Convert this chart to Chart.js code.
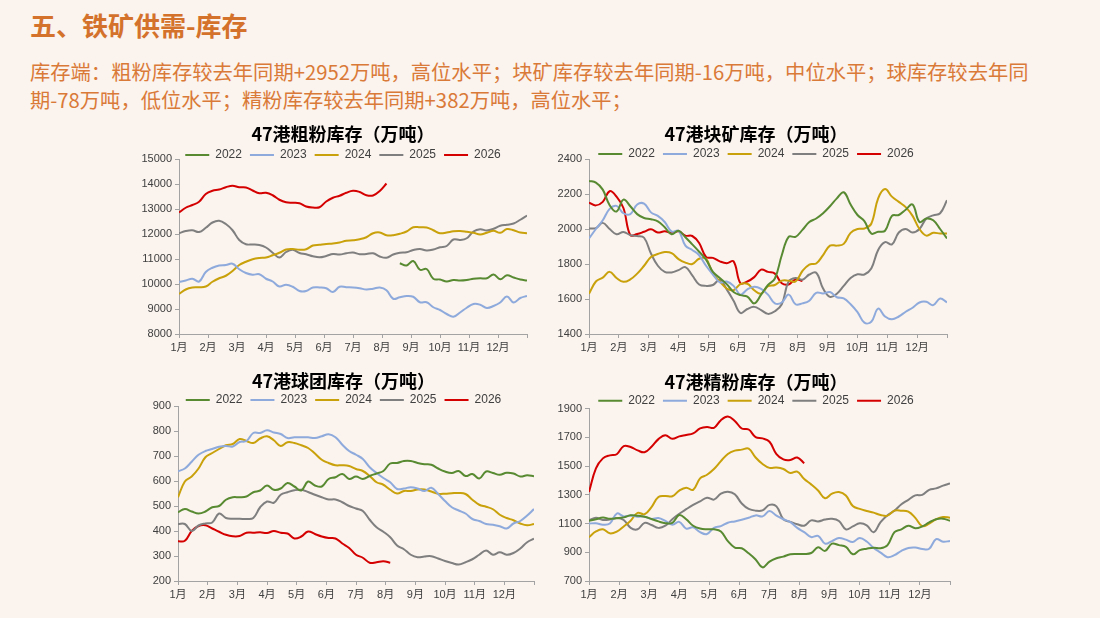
<!DOCTYPE html>
<html lang="zh-CN">
<head>
<meta charset="utf-8">
<title>铁矿供需-库存</title>
<script src="https://cdn.jsdelivr.net/npm/chart.js@4.4.1/dist/chart.umd.min.js"></script>
<style>
  html, body { margin: 0; padding: 0; }
  body {
    width: 1100px; height: 618px; position: relative; overflow: hidden;
    background: #faf3ee;
    font-family: "Noto Sans CJK SC", sans-serif;
  }
  h1 {
    position: absolute; left: 30px; top: 7px; margin: 0;
    font-size: 26px; line-height: 36px; font-weight: 700; color: #d4722c;
  }
  .summary {
    position: absolute; left: 30px; top: 57px; margin: 0;
    font-size: 20.3px; line-height: 28px; color: #da7a38; white-space: nowrap;
  }
  .box { position: absolute; }
</style>
</head>
<body>
<h1>五、铁矿供需-库存</h1>
<p class="summary">库存端：粗粉库存较去年同期+2952万吨，高位水平；块矿库存较去年同期-16万吨，中位水平；球库存较去年同<br>期-78万吨，低位水平；精粉库存较去年同期+382万吨，高位水平；</p>

<div class="box" style="left:119px; top:118px; width:416px; height:240px;"><canvas id="coarseChart"></canvas></div>
<div class="box" style="left:525px; top:118px; width:430px; height:240px;"><canvas id="lumpChart"></canvas></div>
<div class="box" style="left:113px; top:365px; width:429px; height:240px;"><canvas id="pelletChart"></canvas></div>
<div class="box" style="left:522px; top:366px; width:436px; height:239px;"><canvas id="fineChart"></canvas></div>

<script>
"use strict";

// x 轴: 1月..12月, 周度数据 (每周一个点)
const monthLabels = ['1月', '2月', '3月', '4月', '5月', '6月', '7月', '8月', '9月', '10月', '11月', '12月'];
const years = ['2022', '2023', '2024', '2025', '2026'];

// 47港粗粉库存 (万吨)
const coarse2022Start = 33; // 2022 从第33周开始有数据
const coarse2022 = [10830, 10740, 10920, 10570, 10600, 10210, 10180, 10100, 10160, 10140, 10160, 10210, 10230, 10230, 10380, 10190, 10350, 10260, 10180, 10140];
const coarse2023 = [10080, 10140, 10210, 10100, 10480, 10650, 10740, 10760, 10810, 10590, 10440, 10370, 10390, 10210, 10100, 9900, 9970, 9890, 9720, 9720, 9860, 9860, 9830, 9680, 9890, 9870, 9860, 9830, 9780, 9810, 9860, 9750, 9410, 9470, 9520, 9490, 9270, 9270, 9070, 8960, 8800, 8690, 8860, 9050, 9200, 9170, 9040, 9120, 9260, 9500, 9260, 9440, 9520];
const coarse2024 = [9600, 9780, 9860, 9870, 9900, 10090, 10230, 10330, 10520, 10760, 10890, 10990, 11040, 11060, 11150, 11250, 11380, 11400, 11370, 11390, 11540, 11570, 11600, 11620, 11660, 11730, 11750, 11790, 11870, 12030, 12060, 11950, 11950, 12010, 12100, 12270, 12270, 12260, 12150, 12030, 12060, 12110, 12120, 12090, 12050, 11980, 12050, 12130, 12050, 12200, 12150, 12060, 12030];
const coarse2025 = [12030, 12120, 12150, 12080, 12250, 12460, 12530, 12400, 12150, 11760, 11590, 11580, 11560, 11460, 11250, 11060, 11280, 11370, 11240, 11190, 11110, 11070, 11120, 11200, 11180, 11230, 11260, 11190, 11200, 11230, 11100, 11050, 11180, 11250, 11270, 11360, 11400, 11340, 11380, 11470, 11520, 11780, 11760, 11830, 12100, 12190, 12140, 12210, 12330, 12370, 12420, 12570, 12740];
const coarse2026 = [12860, 13050, 13160, 13290, 13600, 13730, 13780, 13870, 13930, 13870, 13860, 13740, 13630, 13650, 13550, 13370, 13270, 13250, 13230, 13100, 13060, 13070, 13300, 13450, 13530, 13650, 13730, 13680, 13550, 13540, 13720, 14020];

// 47港块矿库存 (万吨)
const lump2022 = [2275, 2265, 2225, 2136, 2100, 2168, 2130, 2085, 2063, 2056, 2044, 2010, 1970, 1990, 1953, 1912, 1870, 1825, 1755, 1720, 1685, 1640, 1622, 1614, 1575, 1625, 1680, 1717, 1850, 1955, 1955, 1995, 2040, 2060, 2090, 2130, 2175, 2210, 2140, 2080, 2045, 1974, 1984, 1990, 2075, 2080, 2110, 2140, 2040, 2060, 2050, 2000, 1946];
const lump2023 = [1946, 2000, 2050, 2115, 2132, 2090, 2085, 2140, 2145, 2095, 2075, 2040, 1985, 1990, 1905, 1880, 1850, 1790, 1740, 1695, 1700, 1675, 1625, 1655, 1670, 1658, 1625, 1575, 1580, 1625, 1570, 1575, 1590, 1635, 1632, 1640, 1610, 1603, 1570, 1525, 1465, 1470, 1545, 1500, 1484, 1500, 1527, 1550, 1580, 1584, 1565, 1603, 1581];
const lump2024 = [1630, 1700, 1722, 1755, 1720, 1698, 1712, 1745, 1790, 1840, 1857, 1868, 1862, 1828, 1808, 1800, 1830, 1830, 1745, 1700, 1660, 1650, 1685, 1687, 1650, 1630, 1673, 1680, 1705, 1705, 1700, 1760, 1797, 1803, 1851, 1905, 1905, 1915, 1978, 2000, 2003, 2030, 2175, 2228, 2185, 2155, 2125, 2075, 2000, 1962, 1978, 1974, 1974];
const lump2025 = [2003, 2005, 2035, 2000, 1970, 1983, 1965, 1960, 1950, 1860, 1790, 1755, 1752, 1765, 1782, 1735, 1683, 1675, 1680, 1710, 1655, 1590, 1520, 1543, 1555, 1537, 1515, 1530, 1570, 1700, 1720, 1710, 1740, 1750, 1660, 1612, 1630, 1675, 1720, 1741, 1740, 1774, 1880, 1925, 1912, 1980, 2000, 1980, 2000, 2060, 2078, 2090, 2164];
const lump2026 = [2151, 2135, 2155, 2216, 2185, 2120, 1965, 1971, 1984, 1998, 1980, 1987, 1978, 1987, 1962, 1960, 1920, 1840, 1835, 1815, 1805, 1815, 1690, 1700, 1725, 1768, 1755, 1745, 1690, 1683, 1712, 1702];

// 47港球团库存 (万吨)
const pellet2022 = [475, 488, 478, 470, 478, 495, 500, 525, 535, 535, 538, 555, 562, 582, 565, 570, 592, 578, 562, 598, 582, 578, 608, 615, 628, 608, 618, 608, 620, 630, 640, 670, 672, 680, 680, 672, 667, 665, 650, 638, 632, 640, 620, 628, 610, 638, 632, 625, 633, 630, 618, 623, 619];
const pellet2023 = [639, 650, 677, 705, 720, 728, 737, 740, 738, 756, 760, 792, 792, 803, 794, 788, 772, 775, 775, 775, 772, 779, 787, 775, 745, 720, 705, 688, 655, 632, 612, 595, 568, 570, 575, 570, 560, 573, 548, 520, 495, 482, 470, 448, 440, 428, 425, 419, 410, 430, 440, 462, 488];
const pellet2024 = [535, 598, 618, 650, 695, 712, 728, 743, 748, 768, 760, 752, 770, 779, 763, 740, 755, 752, 743, 732, 710, 685, 672, 663, 663, 660, 648, 640, 620, 595, 585, 565, 550, 560, 560, 566, 566, 558, 549, 549, 551, 552, 548, 525, 505, 497, 487, 465, 452, 443, 430, 423, 428];
const pellet2025 = [428, 428, 400, 422, 430, 434, 470, 452, 449, 449, 448, 452, 495, 518, 513, 545, 555, 563, 565, 556, 545, 535, 526, 526, 515, 500, 490, 480, 445, 415, 397, 375, 342, 327, 305, 295, 298, 299, 290, 280, 272, 266, 275, 287, 305, 322, 305, 315, 305, 312, 330, 355, 369];
const pellet2026 = [359, 361, 400, 420, 423, 410, 397, 385, 379, 380, 393, 393, 395, 392, 400, 393, 390, 370, 378, 398, 388, 378, 372, 370, 350, 332, 305, 293, 273, 275, 279, 273];

// 47港精粉库存 (万吨)
const fine2022 = [1120, 1130, 1142, 1133, 1137, 1143, 1158, 1155, 1148, 1132, 1115, 1103, 1105, 1160, 1130, 1085, 1065, 1060, 1060, 1045, 978, 933, 928, 893, 850, 795, 835, 858, 870, 886, 888, 888, 895, 935, 910, 960, 950, 938, 886, 915, 925, 932, 928, 950, 1040, 1060, 1085, 1067, 1080, 1108, 1130, 1134, 1120];
const fine2023 = [1100, 1102, 1092, 1100, 1170, 1150, 1157, 1148, 1148, 1132, 1138, 1118, 1092, 1112, 1065, 1074, 1040, 1027, 1070, 1082, 1106, 1115, 1126, 1140, 1157, 1150, 1187, 1155, 1130, 1110, 1070, 1040, 1006, 1014, 960, 978, 1000, 988, 972, 1000, 975, 930, 898, 866, 880, 910, 930, 933, 923, 925, 992, 974, 979];
const fine2024 = [1005, 1045, 1060, 1032, 1044, 1080, 1120, 1175, 1165, 1215, 1285, 1292, 1290, 1330, 1350, 1335, 1415, 1440, 1480, 1535, 1585, 1608, 1615, 1622, 1560, 1515, 1488, 1490, 1480, 1452, 1462, 1410, 1373, 1330, 1276, 1308, 1320, 1295, 1222, 1202, 1188, 1176, 1160, 1155, 1190, 1190, 1183, 1140, 1082, 1100, 1130, 1146, 1141];
const fine2025 = [1122, 1140, 1125, 1128, 1138, 1125, 1070, 1060, 1105, 1090, 1070, 1085, 1130, 1168, 1200, 1230, 1255, 1280, 1267, 1308, 1322, 1304, 1240, 1202, 1190, 1192, 1230, 1220, 1130, 1112, 1095, 1085, 1122, 1115, 1128, 1133, 1118, 1060, 1080, 1102, 1088, 1040, 1110, 1158, 1190, 1234, 1265, 1296, 1300, 1335, 1345, 1364, 1380];
const fine2026 = [1320, 1485, 1554, 1575, 1583, 1640, 1633, 1610, 1597, 1635, 1688, 1715, 1690, 1707, 1717, 1728, 1763, 1773, 1767, 1820, 1845, 1815, 1762, 1755, 1702, 1693, 1670, 1584, 1547, 1543, 1560, 1520];

const yearColors = ['#588a32', '#8eaadc', '#c9a10a', '#7f7f7f', '#d40000'];
const weekStep = 12 / 52;
const axisColor = '#a3a3a3';
const tickColor = '#404040';
const tickFont = '"Liberation Sans", "Noto Sans CJK SC", sans-serif';

Chart.defaults.font.family = tickFont;
Chart.defaults.animation = false;

/**
 * 图例紧贴绘图区: Chart.js 在图例下方固定留 10px, 这里把图例整体下移
 */
const legendNudge = {
    id: 'legendNudge',
    afterLayout(chart, args, opts) {
        const legend = chart.legend;
        if (!legend) return;
        legend.top += opts.dy;
        legend.bottom += opts.dy;
    }
};

/**
 * 周度数组转换为 {x, y} 点, x 以月为单位
 */
function toPoints(values, startWeek = 0) {
    return values.map((v, i) => ({ x: (startWeek + i) * weekStep, y: v }));
}

/**
 * 量出 y 轴最宽刻度文字, 用来把镜像刻度放回轴线左侧
 */
function widestLabel(yMin, yMax, yStep) {
    const c = document.createElement('canvas').getContext('2d');
    c.font = '11px ' + tickFont;
    let w = 0;
    for (let v = yMin; v <= yMax; v += yStep) {
        w = Math.max(w, c.measureText(String(v)).width);
    }
    return w;
}

/**
 * 创建一个库存折线图
 */
function createInventoryChart(id, title, series, yMin, yMax, yStep, yWidth, titleGap, legendDy) {
    const ctx = document.getElementById(id).getContext('2d');
    const labelShift = widestLabel(yMin, yMax, yStep) + 7;
    new Chart(ctx, {
        type: 'line',
        data: {
            datasets: series.map((s, i) => ({
                label: years[i],
                data: s,
                borderColor: yearColors[i],
                backgroundColor: yearColors[i],
                borderWidth: 2,
                pointRadius: 0,
                tension: 0.4,
                fill: false
            }))
        },
        plugins: [legendNudge],
        options: {
            responsive: true,
            maintainAspectRatio: false,
            layout: { padding: { left: 40, right: 8, top: 0, bottom: 0 } },
            plugins: {
                legendNudge: { dy: legendDy },
                title: {
                    display: true,
                    text: title,
                    color: '#000000',
                    font: { family: '"Noto Sans CJK SC", sans-serif', size: 18, weight: 'bold', lineHeight: 1.2 },
                    padding: { top: 5, bottom: titleGap }
                },
                legend: {
                    display: true,
                    position: 'top',
                    labels: {
                        usePointStyle: true,
                        pointStyle: 'line',
                        pointStyleWidth: 24,
                        padding: 8,
                        color: tickColor,
                        font: { size: 12 }
                    }
                },
                tooltip: { enabled: false }
            },
            scales: {
                x: {
                    type: 'linear',
                    min: 0,
                    max: 12,
                    afterFit: (scale) => { scale.height = 24; },
                    ticks: {
                        stepSize: 1,
                        autoSkip: false,
                        maxRotation: 0,
                        padding: 3,
                        color: tickColor,
                        font: { size: 11 },
                        callback: (v) => {
                            const m = Math.round(v);
                            return m < 12 ? monthLabels[m] : '';
                        }
                    },
                    grid: { drawOnChartArea: false, tickLength: 4, color: axisColor },
                    border: { color: axisColor }
                },
                y: {
                    min: yMin,
                    max: yMax,
                    afterFit: (scale) => { scale.width = yWidth; },
                    ticks: {
                        stepSize: yStep,
                        mirror: true,
                        crossAlign: 'far',
                        padding: -labelShift,
                        color: tickColor,
                        font: { size: 11 },
                        callback: (v) => String(v)
                    },
                    grid: { drawOnChartArea: false, tickLength: 4, color: axisColor },
                    border: { color: axisColor }
                }
            }
        }
    });
}

window.onload = () => {
    createInventoryChart('coarseChart', '47港粗粉库存（万吨）', [
        toPoints(coarse2022, coarse2022Start), toPoints(coarse2023), toPoints(coarse2024), toPoints(coarse2025), toPoints(coarse2026)
    ], 8000, 15000, 1000, 20, -15.6, 12);

    createInventoryChart('lumpChart', '47港块矿库存（万吨）', [
        toPoints(lump2022), toPoints(lump2023), toPoints(lump2024), toPoints(lump2025), toPoints(lump2026)
    ], 1400, 2400, 200, 24, -15.6, 11);

    createInventoryChart('pelletChart', '47港球团库存（万吨）', [
        toPoints(pellet2022), toPoints(pellet2023), toPoints(pellet2024), toPoints(pellet2025), toPoints(pellet2026)
    ], 200, 900, 100, 25, -15.6, 10);

    createInventoryChart('fineChart', '47港精粉库存（万吨）', [
        toPoints(fine2022), toPoints(fine2023), toPoints(fine2024), toPoints(fine2025), toPoints(fine2026)
    ], 700, 1900, 200, 27, -13.9, 8);
};
</script>
</body>
</html>
